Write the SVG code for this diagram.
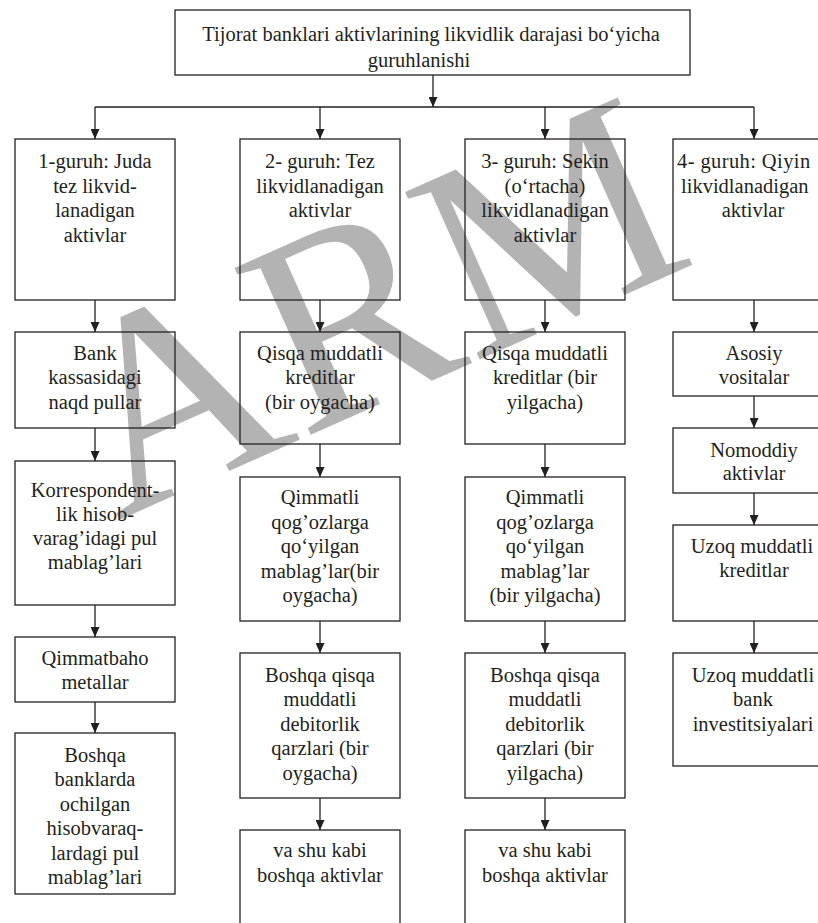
<svg xmlns="http://www.w3.org/2000/svg" width="818" height="923" viewBox="0 0 818 923">
<style>
.b{fill:none;stroke:#231f20;stroke-width:1.3}
.c{fill:none;stroke:#231f20;stroke-width:1.3}
.t{font-family:"Liberation Serif","Times New Roman",serif;font-size:20.5px;fill:#231f20;text-anchor:middle}
.ts{font-family:"Liberation Serif","Times New Roman",serif;font-size:20.5px;fill:#231f20;text-anchor:start}
.wm{font-family:"Liberation Serif","Times New Roman",serif;font-size:280px;fill:#b3b3b3}
</style>
<defs>
<marker id="ah" markerWidth="10" markerHeight="9" refX="10" refY="4.5" orient="auto" markerUnits="userSpaceOnUse">
<path d="M0,0 L10,4.5 L0,9 z" fill="#231f20"/>
</marker>
</defs>
<rect width="818" height="923" fill="#ffffff"/>
<text class="wm" transform="translate(117,521) rotate(-24)">ARM</text>

<g id="connectors">
<line class="c" x1="433" y1="75" x2="433" y2="107" marker-end="url(#ah)"/>
<line class="c" x1="95" y1="107" x2="754" y2="107"/>
<line class="c" x1="95" y1="107" x2="95" y2="139" marker-end="url(#ah)"/>
<line class="c" x1="320" y1="107" x2="320" y2="139" marker-end="url(#ah)"/>
<line class="c" x1="545" y1="107" x2="545" y2="139" marker-end="url(#ah)"/>
<line class="c" x1="754" y1="107" x2="754" y2="139" marker-end="url(#ah)"/>
<line class="c" x1="95" y1="300" x2="95" y2="332" marker-end="url(#ah)"/>
<line class="c" x1="95" y1="428" x2="95" y2="461" marker-end="url(#ah)"/>
<line class="c" x1="95" y1="605" x2="95" y2="637" marker-end="url(#ah)"/>
<line class="c" x1="95" y1="702" x2="95" y2="733" marker-end="url(#ah)"/>
<line class="c" x1="320" y1="300" x2="320" y2="332" marker-end="url(#ah)"/>
<line class="c" x1="320" y1="444" x2="320" y2="477" marker-end="url(#ah)"/>
<line class="c" x1="320" y1="621" x2="320" y2="653" marker-end="url(#ah)"/>
<line class="c" x1="320" y1="798" x2="320" y2="830" marker-end="url(#ah)"/>
<line class="c" x1="545" y1="300" x2="545" y2="332" marker-end="url(#ah)"/>
<line class="c" x1="545" y1="444" x2="545" y2="477" marker-end="url(#ah)"/>
<line class="c" x1="545" y1="621" x2="545" y2="653" marker-end="url(#ah)"/>
<line class="c" x1="545" y1="798" x2="545" y2="830" marker-end="url(#ah)"/>
<line class="c" x1="754" y1="300" x2="754" y2="332" marker-end="url(#ah)"/>
<line class="c" x1="754" y1="396" x2="754" y2="428" marker-end="url(#ah)"/>
<line class="c" x1="754" y1="493" x2="754" y2="525" marker-end="url(#ah)"/>
<line class="c" x1="754" y1="621" x2="754" y2="653" marker-end="url(#ah)"/>
</g>

<g id="title">
<rect class="b" x="175" y="10" width="515" height="65"/>
<text class="t" x="431" y="41">Tijorat banklari aktivlarining likvidlik darajasi bo‘yicha</text>
<text class="t" x="419" y="67">guruhlanishi</text>
</g>

<g id="g1">
<rect class="b" x="15" y="139" width="160" height="161"/>
<text class="t" x="95" y="168">1-guruh: Juda</text>
<text class="t" x="95" y="192.5">tez likvid-</text>
<text class="t" x="95" y="217">lanadigan</text>
<text class="t" x="95" y="241.5">aktivlar</text>
</g>
<g id="g2">
<rect class="b" x="240" y="139" width="160" height="161"/>
<text class="t" x="320" y="168">2- guruh: Tez</text>
<text class="t" x="320" y="192.5">likvidlanadigan</text>
<text class="t" x="320" y="217">aktivlar</text>
</g>
<g id="g3">
<rect class="b" x="465" y="139" width="160" height="161"/>
<text class="t" x="545" y="168">3- guruh: Sekin</text>
<text class="t" x="545" y="192.5">(o‘rtacha)</text>
<text class="t" x="545" y="217">likvidlanadigan</text>
<text class="t" x="545" y="241.5">aktivlar</text>
</g>
<g id="g4">
<rect class="b" x="673" y="139" width="160" height="161"/>
<text class="ts" x="677" y="168" letter-spacing="0.4">4- guruh: Qiyin</text>
<text class="ts" x="681" y="192.5">likvidlanadigan</text>
<text class="t" x="753" y="217">aktivlar</text>
</g>

<g id="c1n1">
<rect class="b" x="15" y="332" width="160" height="96"/>
<text class="t" x="95" y="359.5">Bank</text>
<text class="t" x="95" y="384">kassasidagi</text>
<text class="t" x="95" y="408.5">naqd pullar</text>
</g>
<g id="c1n2">
<rect class="b" x="15" y="461" width="160" height="144"/>
<text class="t" x="95" y="497">Korrespondent-</text>
<text class="t" x="95" y="521">lik hisob-</text>
<text class="t" x="95" y="545">varag’idagi pul</text>
<text class="t" x="95" y="569">mablag’lari</text>
</g>
<g id="c1n3">
<rect class="b" x="15" y="637" width="160" height="65"/>
<text class="t" x="95" y="664.5">Qimmatbaho</text>
<text class="t" x="95" y="689">metallar</text>
</g>
<g id="c1n4">
<rect class="b" x="15" y="733" width="160" height="161"/>
<text class="t" x="95" y="761.5">Boshqa</text>
<text class="t" x="95" y="786">banklarda</text>
<text class="t" x="95" y="810.5">ochilgan</text>
<text class="t" x="95" y="835">hisobvaraq-</text>
<text class="t" x="95" y="859.5">lardagi pul</text>
<text class="t" x="95" y="884">mablag’lari</text>
</g>

<g id="c2n1">
<rect class="b" x="240" y="332" width="160" height="112"/>
<text class="t" x="320" y="359.5">Qisqa muddatli</text>
<text class="t" x="320" y="384">kreditlar</text>
<text class="t" x="320" y="408.5">(bir oygacha)</text>
</g>
<g id="c2n2">
<rect class="b" x="240" y="477" width="160" height="144"/>
<text class="t" x="320" y="504">Qimmatli</text>
<text class="t" x="320" y="528.5">qog’ozlarga</text>
<text class="t" x="320" y="553">qo‘yilgan</text>
<text class="t" x="320" y="577.5">mablag’lar(bir</text>
<text class="t" x="320" y="602">oygacha)</text>
</g>
<g id="c2n3">
<rect class="b" x="240" y="653" width="160" height="145"/>
<text class="t" x="320" y="681.5">Boshqa qisqa</text>
<text class="t" x="320" y="706">muddatli</text>
<text class="t" x="320" y="730.5">debitorlik</text>
<text class="t" x="320" y="755">qarzlari (bir</text>
<text class="t" x="320" y="779.5">oygacha)</text>
</g>
<g id="c2n4">
<rect class="b" x="240" y="830" width="160" height="130"/>
<text class="t" x="320" y="857">va shu kabi</text>
<text class="t" x="320" y="881.5">boshqa aktivlar</text>
</g>

<g id="c3n1">
<rect class="b" x="465" y="332" width="160" height="112"/>
<text class="t" x="545" y="359.5">Qisqa muddatli</text>
<text class="t" x="545" y="384">kreditlar (bir</text>
<text class="t" x="545" y="408.5">yilgacha)</text>
</g>
<g id="c3n2">
<rect class="b" x="465" y="477" width="160" height="144"/>
<text class="t" x="545" y="504">Qimmatli</text>
<text class="t" x="545" y="528.5">qog’ozlarga</text>
<text class="t" x="545" y="553">qo‘yilgan</text>
<text class="t" x="545" y="577.5">mablag’lar</text>
<text class="t" x="545" y="602">(bir yilgacha)</text>
</g>
<g id="c3n3">
<rect class="b" x="465" y="653" width="160" height="145"/>
<text class="t" x="545" y="681.5">Boshqa qisqa</text>
<text class="t" x="545" y="706">muddatli</text>
<text class="t" x="545" y="730.5">debitorlik</text>
<text class="t" x="545" y="755">qarzlari (bir</text>
<text class="t" x="545" y="779.5">yilgacha)</text>
</g>
<g id="c3n4">
<rect class="b" x="465" y="830" width="160" height="130"/>
<text class="t" x="545" y="857">va shu kabi</text>
<text class="t" x="545" y="881.5">boshqa aktivlar</text>
</g>

<g id="c4n1">
<rect class="b" x="673" y="332" width="160" height="64"/>
<text class="t" x="754" y="359.5">Asosiy</text>
<text class="t" x="754" y="384">vositalar</text>
</g>
<g id="c4n2">
<rect class="b" x="673" y="428" width="160" height="65"/>
<text class="t" x="754" y="456.5">Nomoddiy</text>
<text class="t" x="754" y="480">aktivlar</text>
</g>
<g id="c4n3">
<rect class="b" x="673" y="525" width="160" height="96"/>
<text class="t" x="752" y="552.5">Uzoq muddatli</text>
<text class="t" x="754" y="577">kreditlar</text>
</g>
<g id="c4n4">
<rect class="b" x="673" y="653" width="160" height="113"/>
<text class="t" x="753" y="681.5">Uzoq muddatli</text>
<text class="t" x="753" y="706">bank</text>
<text class="t" x="753" y="730.5">investitsiyalari</text>
</g>
</svg>
